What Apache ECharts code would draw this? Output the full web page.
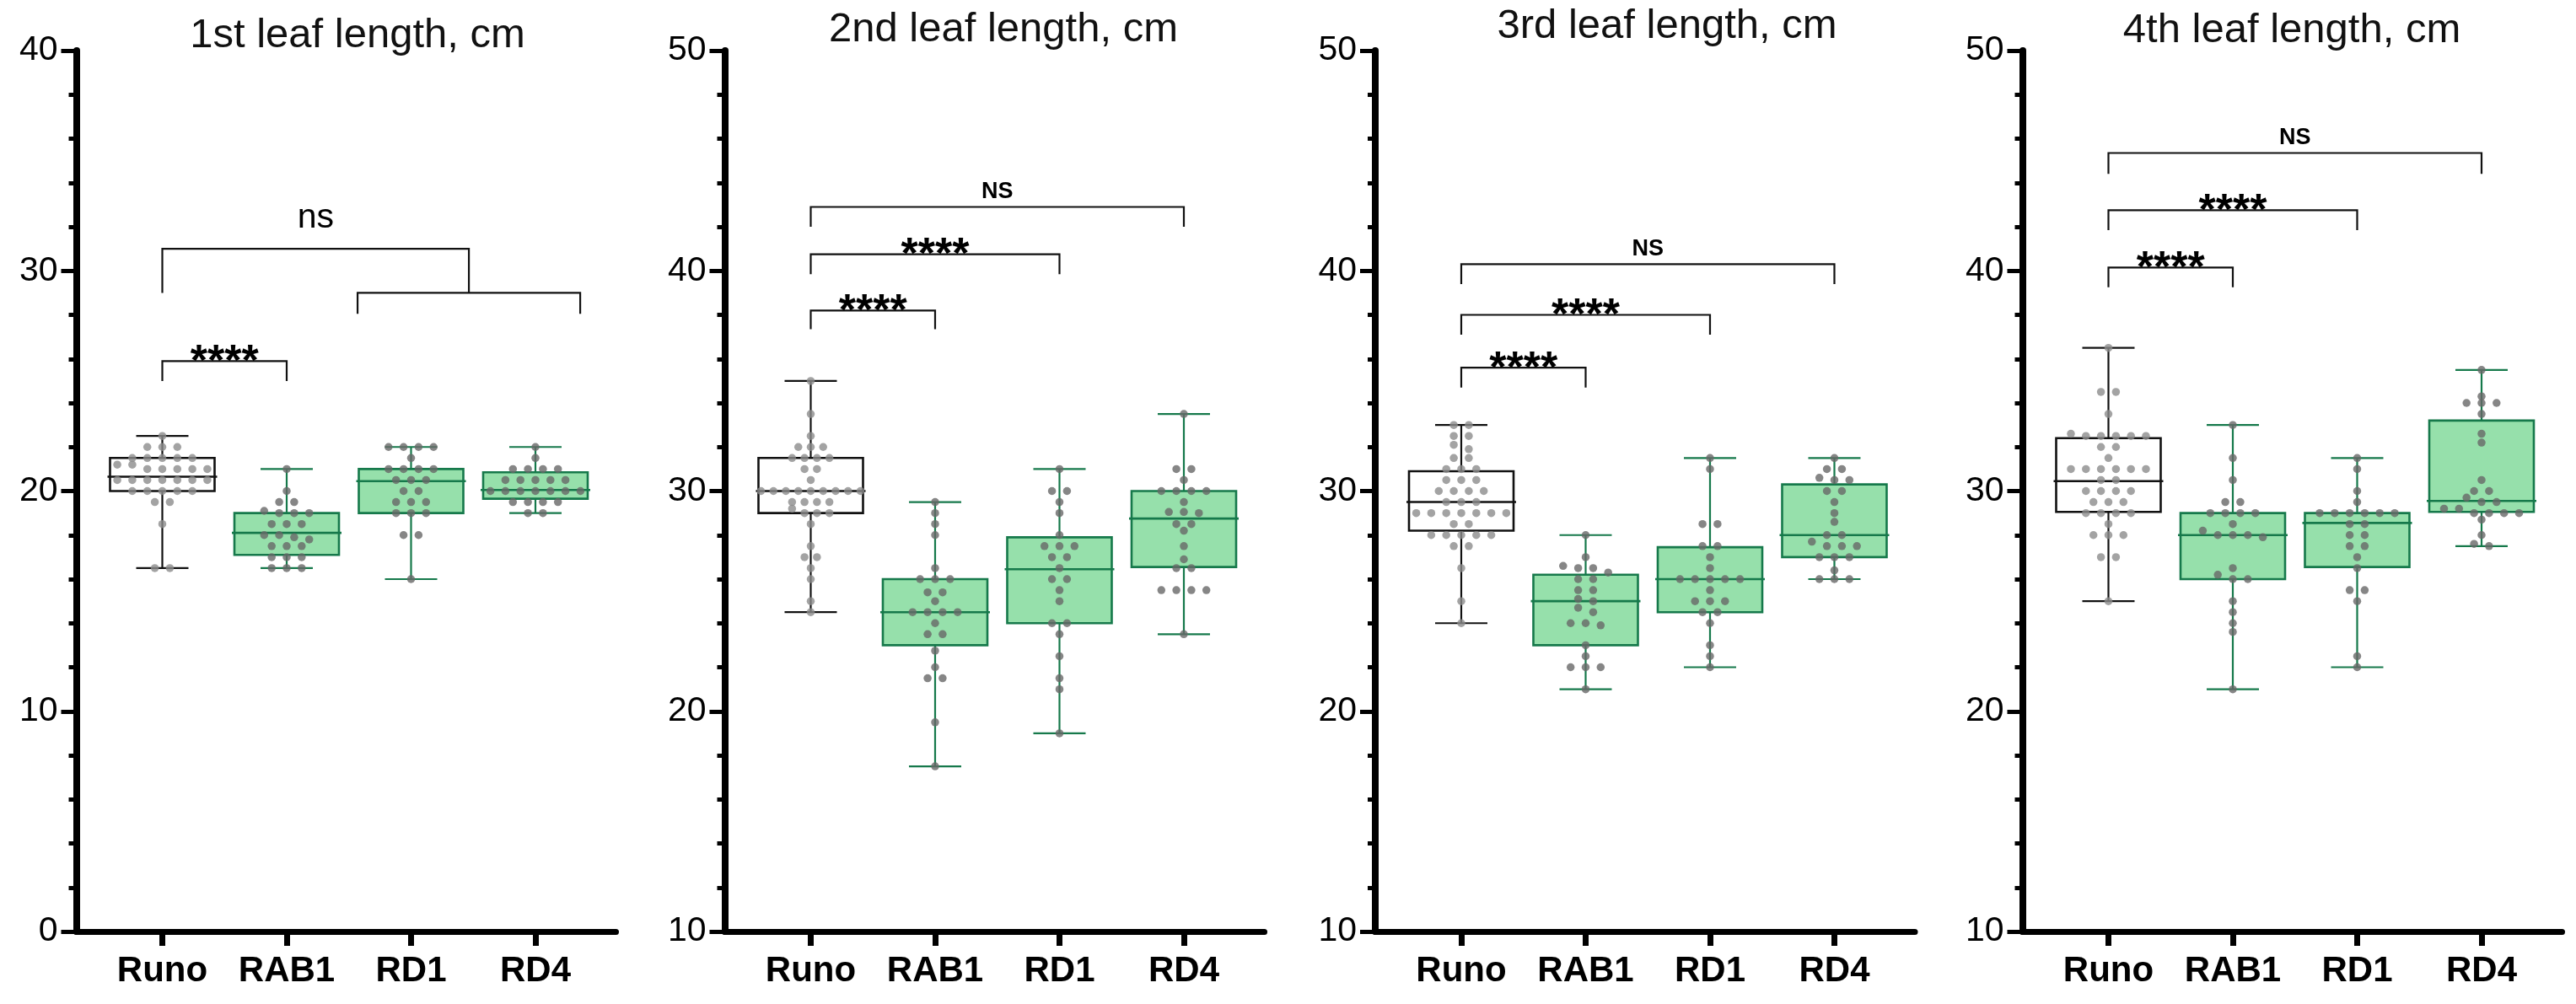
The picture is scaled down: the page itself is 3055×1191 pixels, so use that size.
<!DOCTYPE html>
<html><head><meta charset="utf-8">
<script src="https://cdn.jsdelivr.net/npm/echarts@6/dist/echarts.min.js"></script>
<style>html,body{margin:0;padding:0;background:#fff}#c{width:3055px;height:1191px}</style>
</head><body><div id="c"></div><script>
// ---------------- DATA ----------------
const categories = ['Runo', 'RAB1', 'RD1', 'RD4'];
const panelTitles = ['1st leaf length, cm', '2nd leaf length, cm', '3rd leaf length, cm', '4th leaf length, cm'];
const yRanges = [[0, 40], [10, 50], [10, 50], [10, 50]];

// individual measurements (cm), one list per line and leaf
const leaf1Runo = [22.5, 22, 22, 22, 21.5, 21.5, 21.5, 21.5, 21.5, 21.2, 21.2, 21, 21, 21, 21, 21, 20.5, 20.5, 20.5, 20.5, 20.5, 20.5, 20.5, 20, 20, 20, 20, 20, 19.5, 19.5, 18.5, 16.5, 16.5];
const leaf1RAB1 = [21, 20, 19.5, 19.5, 19.1, 19, 19, 19, 18.5, 18.5, 18.5, 18, 18, 17.9, 17.8, 17.5, 17.5, 17.5, 17, 17, 17, 16.5, 16.5, 16.5];
const leaf1RD1  = [22, 22, 22, 22, 21.5, 21, 21, 21, 21, 20.5, 20.5, 20.5, 20, 20, 19.5, 19.5, 19.5, 19, 19, 19, 18, 18, 16];
const leaf1RD4  = [22, 21.5, 21, 21, 21, 21, 20.5, 20.5, 20.5, 20.5, 20.5, 20, 20, 20, 20, 20, 20, 20, 19.5, 19.5, 19.5, 19.5, 19, 19];

const leaf2Runo = [35, 33.5, 32.5, 32, 32, 32, 31.5, 31.5, 31.5, 31.5, 31, 31, 30.5, 30, 30, 30, 30, 30, 30, 30, 30, 30, 29.5, 29.5, 29.5, 29.5, 29.2, 29, 29, 29, 28.5, 27.5, 27, 27, 26.5, 26, 25, 24.5];
const leaf2RAB1 = [29.5, 29, 28.5, 28, 26.5, 26, 26, 26, 25.4, 25.4, 25, 24.5, 24.5, 24.5, 24.5, 24, 23.5, 23.5, 22.75, 22, 21.5, 21.5, 19.5, 17.5];
const leaf2RD1  = [31, 30, 30, 29.5, 29, 28, 27.5, 27.5, 27.5, 27, 27, 26.5, 26, 26, 25.5, 25, 24, 24, 23.5, 22.5, 21.5, 21, 19];
const leaf2RD4  = [33.5, 31, 31, 30.5, 30, 30, 30, 30, 29.5, 29.05, 29.05, 29, 28.5, 28.5, 28.2, 27.5, 26.9, 26.5, 26.5, 25.5, 25.5, 25.5, 25.5, 23.5];

const leaf3Runo = [33, 33, 32.5, 32.5, 32.1, 31.9, 31.5, 31.5, 31, 31, 31, 30.5, 30.5, 30.5, 30, 30, 30, 30, 29.5, 29.5, 29.5, 29, 29, 29, 29, 29, 29, 29, 28.5, 28.5, 28, 28, 28, 28, 28, 27.5, 27.5, 26.5, 25, 24];
const leaf3RAB1 = [28, 27, 26.6, 26.5, 26.5, 26.3, 26, 26, 25.5, 25.5, 25.1, 25, 24.7, 24.5, 24, 24, 23.9, 23, 22.5, 22, 22, 22, 21];
const leaf3RD1  = [31.5, 31, 28.5, 28.5, 27.5, 27.5, 27, 26.5, 26, 26, 26, 26, 26, 25.5, 25, 25, 25, 24.5, 24.5, 24, 23, 22.5, 22];
const leaf3RD4  = [31.5, 31, 31, 30.6, 30.5, 30.5, 30, 30, 29.5, 29, 28.6, 28, 28, 27.7, 27.5, 27.5, 27.5, 27, 27, 27, 26.4, 26, 26, 26];

const leaf4Runo = [36.5, 34.5, 34.5, 33.5, 32.6, 32.5, 32.5, 32.5, 32.5, 32.5, 32, 32, 31.5, 31, 31, 31, 31, 31, 31, 30.5, 30.5, 30, 30, 30, 30, 29.5, 29.5, 29.5, 29, 29, 29, 29, 28.5, 28, 28, 28, 27, 27, 25];
const leaf4RAB1 = [33, 31.5, 30.5, 29.5, 29.5, 29, 29, 29, 29, 28.5, 28.2, 28, 28, 28, 27.9, 26.5, 26.2, 26, 26, 25, 24.5, 24, 23.6, 21];
const leaf4RD1  = [31.5, 31, 30, 29.5, 29, 29, 29, 29, 29, 29, 28.5, 28.5, 28, 28, 27.5, 27.5, 27, 26.5, 25.5, 25.5, 25, 22.5, 22];
const leaf4RD4  = [35.5, 34.3, 34, 34, 34, 33.5, 32.6, 32.2, 30.5, 30, 30, 29.7, 29.5, 29.5, 29.2, 29.2, 29, 29, 29, 29, 28.7, 28, 27.6, 27.5];

// box statistics [min, Q1, median, Q3, max] per line
const leaf1Box = [[16.5, 20, 20.65, 21.5, 22.5], [16.5, 17.1, 18.1, 19, 21], [16, 19, 20.45, 21, 22], [19, 19.65, 20.05, 20.85, 22]];
const leaf2Box = [[24.5, 29, 30, 31.5, 35], [17.5, 23, 24.5, 26, 29.5], [19, 24, 26.45, 27.9, 31], [23.5, 26.55, 28.75, 30, 33.5]];
const leaf3Box = [[24, 28.2, 29.5, 30.9, 33], [21, 23, 25, 26.2, 28], [22, 24.5, 26, 27.45, 31.5], [26, 27, 28, 30.3, 31.5]];
const leaf4Box = [[25, 29.05, 30.45, 32.4, 36.5], [21, 26, 28, 29, 33], [22, 26.55, 28.55, 29, 31.5], [27.5, 29.05, 29.55, 33.2, 35.5]];

// significance brackets: [from category, to category, bar level, left leg end, right leg end]
const leaf1Sig = [[1, 2, 25.9, 25.0, 25.0], [1, 3.465, 31.0, 29.0, 29.0], [2.57, 4.36, 29.0, 28.05, 28.05]];
const leaf1SigText = ['****', 'ns', ''];
const leaf2Sig = [[1, 2, 38.2, 37.35, 37.35], [1, 3, 40.75, 39.85, 39.85], [1, 4, 42.9, 42.0, 42.0]];
const leaf2SigText = ['****', '****', 'NS'];
const leaf3Sig = [[1, 2, 35.6, 34.7, 34.7], [1, 3, 38.0, 37.1, 37.1], [1, 4, 40.3, 39.4, 39.4]];
const leaf3SigText = ['****', '****', 'NS'];
const leaf4Sig = [[1, 2, 40.15, 39.25, 39.25], [1, 3, 42.75, 41.85, 41.85], [1, 4, 45.35, 44.4, 44.4]];
const leaf4SigText = ['****', '****', 'NS'];

const panels = [
  { points: [leaf1Runo, leaf1RAB1, leaf1RD1, leaf1RD4], box: leaf1Box, sig: leaf1Sig, sigText: leaf1SigText },
  { points: [leaf2Runo, leaf2RAB1, leaf2RD1, leaf2RD4], box: leaf2Box, sig: leaf2Sig, sigText: leaf2SigText },
  { points: [leaf3Runo, leaf3RAB1, leaf3RD1, leaf3RD4], box: leaf3Box, sig: leaf3Sig, sigText: leaf3SigText },
  { points: [leaf4Runo, leaf4RAB1, leaf4RD1, leaf4RD4], box: leaf4Box, sig: leaf4Sig, sigText: leaf4SigText }
];

// ---------------- LAYOUT / STYLE ----------------
const FONT = '"Liberation Sans", Arial, Helvetica, sans-serif';
const NARROW = '"Liberation Sans Narrow", "Arial Narrow", "Liberation Sans", Arial, sans-serif';
const AXIS_X = [90.5, 859.5, 1631, 2398.5];
const TITLE_X = [424, 1190, 1977, 2718];
const TITLE_BASE = [59, 52.5, 48, 53];
const TITLE_SIZE = 49;
const GRID_TOP = 60, GRID_H = 1045, GRID_W = 640;
const X_MIN = 0.3085, X_MAX = 4.6475;
const UNIT_PX = GRID_W / (X_MAX - X_MIN);
const BOX_W = 124, CAP_W = 62;
const GREEN_FILL = '#96e0ab', GREEN_STROKE = '#16794b';
const DOT_REF = '#8c8c8c', DOT = '#686868';
const DOT_SIZE = 9.5, DOT_GAP = 17.8, MAX_SPAN = 118;

function swarm(values) {
  const rows = new Map();
  values.forEach(v => {
    const k = Math.round(v * 2) / 2;
    if (!rows.has(k)) rows.set(k, []);
    rows.get(k).push(v);
  });
  let maxN = 1;
  rows.forEach(r => { maxN = Math.max(maxN, r.length); });
  const D = maxN > 1 ? Math.min(DOT_GAP, MAX_SPAN / (maxN - 1)) : DOT_GAP;
  const out = [];
  rows.forEach(r => r.forEach((v, j) => out.push([(j - (r.length - 1) / 2) * D, v])));
  return out;
}

function boxRender(params, api) {
  const x = api.value(0);
  const v = [1, 2, 3, 4, 5].map(i => api.value(i));
  const ref = params.dataIndex === 0;
  const stroke = ref ? '#111' : GREEN_STROKE;
  const fill = ref ? '#ffffff' : GREEN_FILL;
  const p = v.map(val => api.coord([x, val]));
  const cx = p[2][0];
  const ls = { stroke: stroke, lineWidth: 2.2 };
  return {
    type: 'group',
    children: [
      { type: 'line', shape: { x1: cx, y1: p[4][1], x2: cx, y2: p[3][1] }, style: ls },
      { type: 'line', shape: { x1: cx, y1: p[1][1], x2: cx, y2: p[0][1] }, style: ls },
      { type: 'line', shape: { x1: cx - CAP_W / 2, y1: p[4][1], x2: cx + CAP_W / 2, y2: p[4][1] }, style: ls },
      { type: 'line', shape: { x1: cx - CAP_W / 2, y1: p[0][1], x2: cx + CAP_W / 2, y2: p[0][1] }, style: ls },
      { type: 'rect', shape: { x: cx - BOX_W / 2, y: p[3][1], width: BOX_W, height: p[1][1] - p[3][1] },
        style: { fill: fill, stroke: stroke, lineWidth: 2.6 } },
      { type: 'line', shape: { x1: cx - BOX_W / 2 - 3, y1: p[2][1], x2: cx + BOX_W / 2 + 3, y2: p[2][1] },
        style: { stroke: stroke, lineWidth: 2.6 } }
    ]
  };
}

function sigRenderFor(texts) {
  return function (params, api) {
    const a = api.coord([api.value(0), api.value(2)]);
    const b = api.coord([api.value(1), api.value(2)]);
    const l1 = api.coord([api.value(0), api.value(3)]);
    const l2 = api.coord([api.value(1), api.value(4)]);
    const children = [{
      type: 'polyline',
      shape: { points: [[a[0], l1[1]], a, b, [b[0], l2[1]]] },
      style: { stroke: '#111', lineWidth: 2.2, fill: null }
    }];
    const t = texts[params.dataIndex];
    if (t) {
      let font, dy;
      if (t === '****') { font = 'bold 52px ' + FONT; dy = 2; }
      else if (t === 'NS') { font = 'bold 27px ' + FONT; dy = -18; }
      else { font = '41px ' + NARROW; dy = -36; }
      children.push({
        type: 'text',
        x: (a[0] + b[0]) / 2, y: a[1] + dy,
        style: { text: t, font: font, fill: '#000', align: 'center', verticalAlign: 'middle' }
      });
    }
    return { type: 'group', children: children };
  };
}

const grid = [], xAxis = [], yAxis = [], series = [], graphic = [];
panels.forEach((pn, k) => {
  grid.push({ left: AXIS_X[k], top: GRID_TOP, width: GRID_W, height: GRID_H, containLabel: false, outerBoundsMode: 'none' });
  xAxis.push({
    type: 'value', gridIndex: k, min: X_MIN, max: X_MAX,
    splitLine: { show: false },
    axisLine: { show: true, onZero: false, lineStyle: { color: '#000', width: 7 } },
    axisTick: { show: true, customValues: [1, 2, 3, 4], length: 17, lineStyle: { color: '#000', width: 7 } },
    axisLabel: {
      show: true, customValues: [1, 2, 3, 4], formatter: v => categories[Math.round(v) - 1] || '',
      fontSize: 42, fontWeight: 'bold', color: '#000', fontFamily: FONT, margin: 26
    }
  });
  yAxis.push({
    type: 'value', gridIndex: k, min: yRanges[k][0], max: yRanges[k][1], interval: 10,
    splitLine: { show: false },
    axisLine: { show: true, onZero: false, lineStyle: { color: '#000', width: 8 } },
    axisTick: { show: true, length: 18, lineStyle: { color: '#000', width: 5 } },
    minorTick: { show: true, splitNumber: 5, length: 9, lineStyle: { color: '#000', width: 5 } },
    minorSplitLine: { show: false },
    axisLabel: { fontSize: 41, color: '#000', fontFamily: FONT, margin: 22 }
  });
  series.push({
    type: 'custom', xAxisIndex: k, yAxisIndex: k, z: 2, silent: true, clip: false,
    renderItem: boxRender,
    encode: { x: 0, y: [1, 2, 3, 4, 5] },
    data: pn.box.map((b, i) => [i + 1].concat(b))
  });
  const dots = [];
  pn.points.forEach((vals, gi) => {
    swarm(vals).forEach(([dx, v]) => {
      dots.push({ value: [gi + 1 + dx / UNIT_PX, v], itemStyle: { color: gi === 0 ? DOT_REF : DOT } });
    });
  });
  series.push({
    type: 'scatter', xAxisIndex: k, yAxisIndex: k, z: 3, silent: true,
    symbol: 'circle', symbolSize: DOT_SIZE, data: dots
  });
  series.push({
    type: 'custom', xAxisIndex: k, yAxisIndex: k, z: 4, silent: true, clip: false,
    renderItem: sigRenderFor(pn.sigText),
    encode: { x: [0, 1], y: [2, 3, 4] },
    data: pn.sig
  });
  graphic.push({
    type: 'text', x: TITLE_X[k], y: TITLE_BASE[k] - 0.3465 * TITLE_SIZE,
    style: { text: panelTitles[k], font: TITLE_SIZE + 'px ' + FONT, fill: '#111', align: 'center', verticalAlign: 'middle' }
  });
});

const chart = echarts.init(document.getElementById('c'), null, { renderer: 'canvas' });
chart.setOption({
  animation: false,
  backgroundColor: '#ffffff',
  grid: grid, xAxis: xAxis, yAxis: yAxis, series: series, graphic: graphic
});
</script></body></html>
